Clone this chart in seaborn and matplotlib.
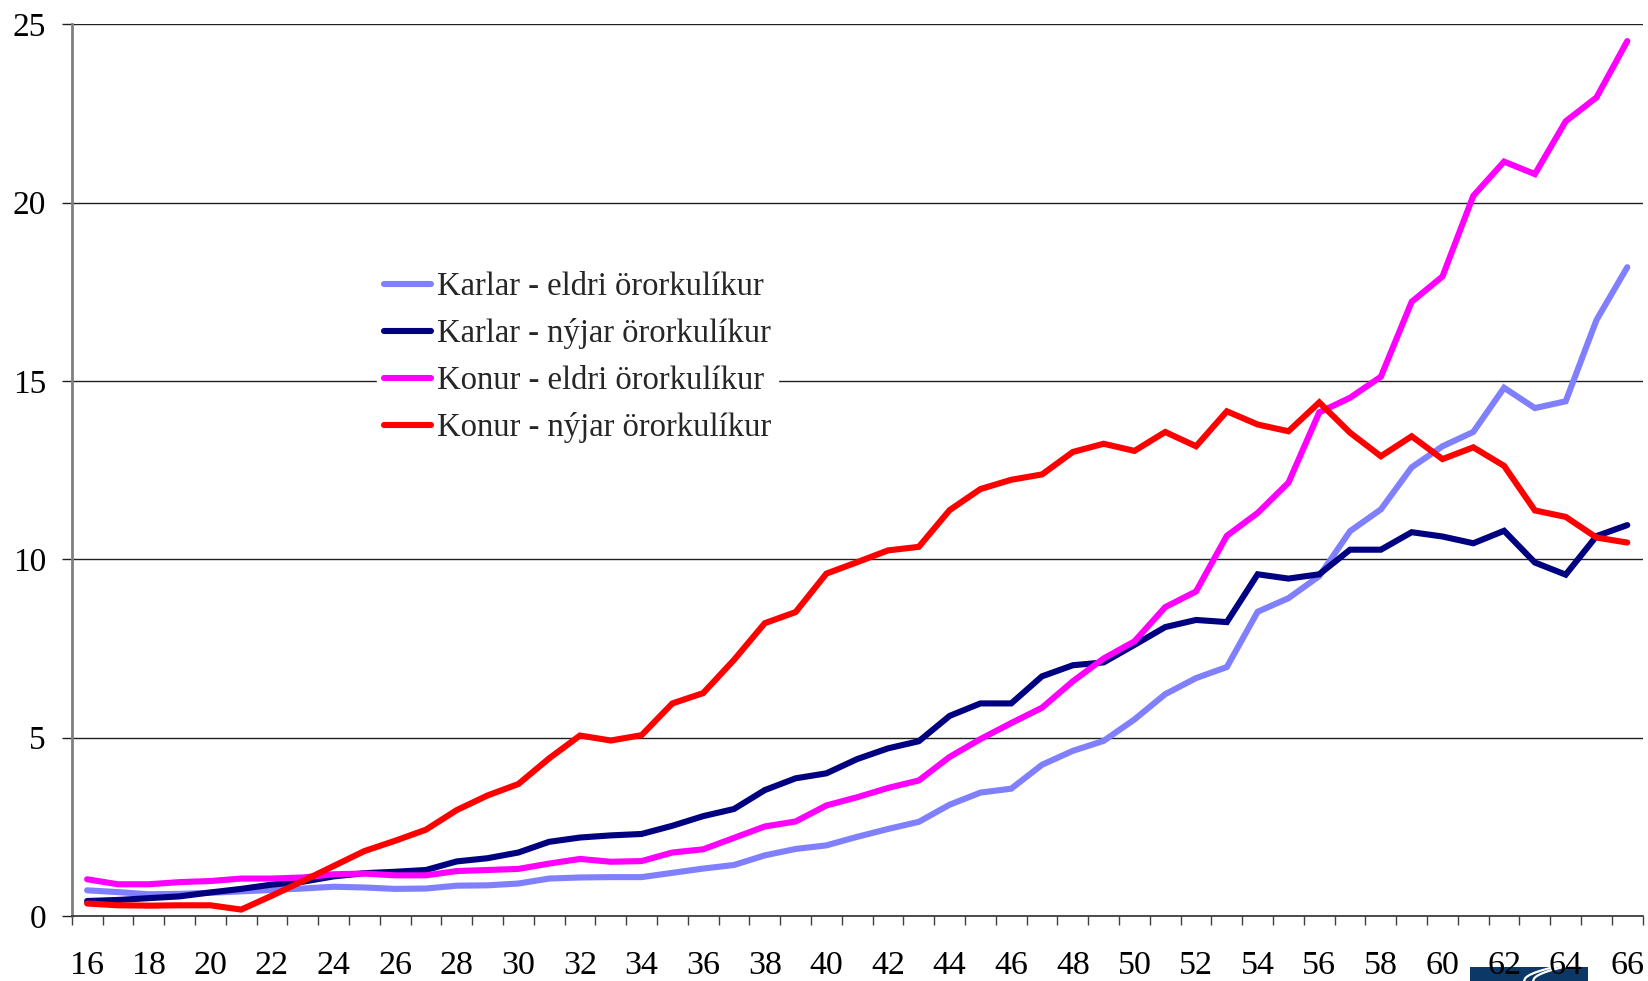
import numpy as np
import pandas as pd
import matplotlib
matplotlib.use("Agg")
import matplotlib.pyplot as plt
from matplotlib.patches import Rectangle
from matplotlib.lines import Line2D
from matplotlib.ticker import FixedLocator
import seaborn as sns

ages = list(range(16, 67))

karlar_eldri = [0.72, 0.67, 0.61, 0.62, 0.65, 0.69, 0.73, 0.77, 0.82, 0.80,
                0.76, 0.77, 0.85, 0.86, 0.91, 1.05, 1.08, 1.09, 1.09, 1.21,
                1.33, 1.43, 1.70, 1.88, 1.98, 2.22, 2.44, 2.64, 3.12, 3.46,
                3.57, 4.24, 4.63, 4.91, 5.51, 6.22, 6.67, 6.98, 8.53, 8.91,
                9.53, 10.79, 11.40, 12.58, 13.17, 13.57, 14.81, 14.24, 14.43, 16.71,
                18.19]
karlar_nyjar = [0.42, 0.45, 0.50, 0.55, 0.66, 0.76, 0.88, 0.96, 1.11, 1.20,
                1.24, 1.29, 1.53, 1.62, 1.78, 2.08, 2.20, 2.26, 2.30, 2.53,
                2.80, 3.00, 3.53, 3.86, 4.00, 4.40, 4.70, 4.90, 5.61, 5.96,
                5.96, 6.72, 7.03, 7.11, 7.60, 8.10, 8.30, 8.24, 9.58, 9.46,
                9.58, 10.27, 10.27, 10.76, 10.64, 10.45, 10.80, 9.91, 9.57, 10.65,
                10.96]
konur_eldri = [1.03, 0.89, 0.89, 0.95, 0.98, 1.05, 1.05, 1.08, 1.17, 1.19,
               1.14, 1.14, 1.26, 1.29, 1.32, 1.47, 1.60, 1.52, 1.54, 1.78,
               1.87, 2.19, 2.51, 2.65, 3.10, 3.33, 3.59, 3.80, 4.46, 4.96,
               5.41, 5.84, 6.58, 7.22, 7.70, 8.66, 9.10, 10.66, 11.30, 12.15,
               14.12, 14.53, 15.12, 17.22, 17.93, 20.19, 21.15, 20.80, 22.28, 22.95,
               24.53]
konur_nyjar = [0.35, 0.30, 0.29, 0.30, 0.30, 0.18, 0.57, 0.98, 1.40, 1.82,
               2.11, 2.42, 2.97, 3.38, 3.70, 4.42, 5.06, 4.92, 5.07, 5.96,
               6.25, 7.18, 8.21, 8.52, 9.60, 9.92, 10.25, 10.35, 11.38, 11.97,
               12.23, 12.38, 13.01, 13.24, 13.04, 13.57, 13.17, 14.15, 13.78, 13.59,
               14.40, 13.55, 12.89, 13.45, 12.81, 13.14, 12.62, 11.37, 11.19, 10.61,
               10.47]

series_names = ["Karlar - eldri örorkulíkur", "Karlar - nýjar örorkulíkur",
                "Konur - eldri örorkulíkur", "Konur - nýjar örorkulíkur"]
series_values = [karlar_eldri, karlar_nyjar, konur_eldri, konur_nyjar]
colors = ["#8080FF", "#000080", "#FF00FF", "#FF0000"]
y_ticks = [0, 5, 10, 15, 20, 25]
x_label_ticks = list(range(16, 67, 2))

df = pd.concat([pd.DataFrame({"age": ages, "value": v, "series": n})
                for n, v in zip(series_names, series_values)], ignore_index=True)

sns.set_theme(style="white")
plt.rcParams["font.family"] = ["Liberation Serif", "DejaVu Serif"]

W, H = 1648, 981
fig = plt.figure(figsize=(W / 100, H / 100), dpi=100)
ax = fig.add_axes([71.7 / W, 1 - 916 / H, (1642.7 - 71.7) / W, (916 - 24.3) / H])

sns.lineplot(data=df, x="age", y="value", hue="series", hue_order=series_names,
             palette=colors, linewidth=4.4, ax=ax, legend=True,
             solid_capstyle="round", solid_joinstyle="miter")

ax.set_xlim(15.5, 66.5)
ax.set_ylim(0, 25)
ax.set_xlabel("")
ax.set_ylabel("")

ax.yaxis.set_major_locator(FixedLocator(y_ticks))
ax.set_yticklabels([str(t) for t in y_ticks])
ax.grid(axis="y", color="#202020", linewidth=1.0)
ax.grid(axis="x", visible=False)
ax.set_axisbelow(True)

ax.xaxis.set_major_locator(FixedLocator(x_label_ticks))
ax.set_xticklabels([str(t) for t in x_label_ticks])
ax.xaxis.set_minor_locator(FixedLocator([a + 0.5 for a in range(15, 67)]))

ax.tick_params(axis="x", which="major", length=0, pad=25, labelsize=24.5, colors="black")
ax.tick_params(axis="x", which="minor", length=6.5, width=1.0, color="#404040",
               direction="out", bottom=True)
ax.tick_params(axis="y", which="major", length=7, width=1.0, color="#202020",
               direction="out", pad=11.5, labelsize=24, left=True)
for lab in ax.get_xticklabels() + ax.get_yticklabels():
    lab.set_color("black")

for s in ["top", "right"]:
    ax.spines[s].set_visible(False)
ax.spines["left"].set_color("#808080")
ax.spines["left"].set_linewidth(2.0)
ax.spines["bottom"].set_color("#303030")
ax.spines["bottom"].set_linewidth(1.2)

leg = ax.legend(loc="upper left", bbox_to_anchor=(377 / W, 1 - 265 / H),
                bbox_transform=fig.transFigure, frameon=True, fontsize=23.5,
                handlelength=1.45, handletextpad=0.2, labelspacing=0.5,
                borderpad=0.2, borderaxespad=0)
leg.get_frame().set_facecolor("white")
leg.get_frame().set_edgecolor("white")
leg.get_frame().set_alpha(1.0)
leg.get_frame().set_boxstyle("square", pad=0)
for h in leg.get_lines():
    h.set_linewidth(4.4)
    h.set_solid_capstyle("round")

# partial logo at bottom right
fig.patches.append(Rectangle((1470 / W, 0), 118 / W, 14 / H, transform=fig.transFigure,
                             facecolor="#0c3868", edgecolor="none", zorder=-1))
for dx in (0, 9):
    t = np.linspace(0, 1, 30)
    xs = (1524 + dx + 40 * t) / W
    ys = (16 * np.sqrt(t)) / H
    fig.lines.append(Line2D(xs, ys, transform=fig.transFigure, color="white",
                            linewidth=1.6, zorder=-0.5))

fig.savefig("out.png", dpi=100)
